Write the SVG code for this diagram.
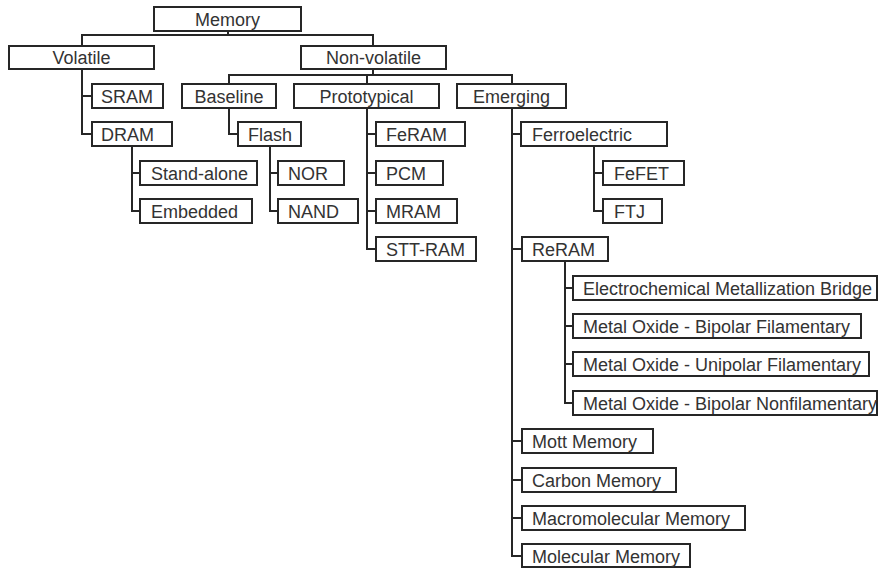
<svg xmlns="http://www.w3.org/2000/svg" width="878" height="568" viewBox="0 0 878 568">
<style>
rect{fill:#fff;stroke:#262626;stroke-width:2}
text{font-family:"Liberation Sans",Arial,sans-serif;font-size:18px;fill:#333}
.c{text-anchor:middle}
#connectors path{fill:none;stroke:#262626;stroke-width:2}
</style>
<rect x="0" y="0" width="878" height="568" style="stroke:none"/>
<g id="connectors">
<path d="M228 31V35M82 46V35H373V46"/>
<path d="M373 69V75M229 84V75H512V84M367 75V84"/>
<path d="M82 69V134H92M82 96H92"/>
<path d="M229 108V134H238"/>
<path d="M132 146V211H140M132 173H140"/>
<path d="M270 146V211H278M270 173H278"/>
<path d="M367 108V249H376M367 134H376M367 173H376M367 211H376"/>
<path d="M512 108V556H522M512 134H521M512 249H522M512 441H522M512 480H522M512 518H522"/>
<path d="M594 146V211H603M594 173H603"/>
<path d="M565 261V403H573M565 288H573M565 326H573M565 364H573"/>
</g>
<g id="memory"><rect x="154" y="7" width="147" height="24"/><text class="c" x="227.5" y="25.5">Memory</text></g>
<g id="volatile"><rect x="9" y="46" width="145" height="23"/><text class="c" x="81.5" y="64">Volatile</text></g>
<g id="nonvolatile"><rect x="301" y="46" width="145" height="23"/><text class="c" x="373.5" y="64">Non-volatile</text></g>
<g id="baseline"><rect x="182" y="84" width="94" height="24"/><text class="c" x="229" y="102.5">Baseline</text></g>
<g id="prototypical"><rect x="294" y="84" width="145" height="24"/><text class="c" x="366.5" y="102.5">Prototypical</text></g>
<g id="emerging"><rect x="457" y="84" width="109" height="24"/><text class="c" x="511.5" y="102.5">Emerging</text></g>
<g id="sram"><rect x="92" y="84" width="71" height="24"/><text x="101" y="102.5">SRAM</text></g>
<g id="dram"><rect x="92" y="122" width="80" height="24"/><text x="101" y="140.5">DRAM</text></g>
<g id="flash"><rect x="238" y="122" width="63" height="24"/><text x="248" y="140.5">Flash</text></g>
<g id="feram"><rect x="376" y="122" width="89" height="24"/><text x="386" y="140.5">FeRAM</text></g>
<g id="ferroelectric"><rect x="521" y="122" width="146" height="24"/><text x="532" y="140.5">Ferroelectric</text></g>
<g id="standalone"><rect x="140" y="161" width="117" height="24"/><text x="151" y="179.5">Stand-alone</text></g>
<g id="nor"><rect x="278" y="161" width="66" height="24"/><text x="288" y="179.5">NOR</text></g>
<g id="pcm"><rect x="376" y="161" width="67" height="24"/><text x="386" y="179.5">PCM</text></g>
<g id="fefet"><rect x="603" y="161" width="81" height="24"/><text x="614" y="179.5">FeFET</text></g>
<g id="embedded"><rect x="140" y="199" width="112" height="24"/><text x="151" y="217.5">Embedded</text></g>
<g id="nand"><rect x="278" y="199" width="80" height="24"/><text x="288" y="217.5">NAND</text></g>
<g id="mram"><rect x="376" y="199" width="81" height="24"/><text x="386" y="217.5">MRAM</text></g>
<g id="ftj"><rect x="603" y="199" width="59" height="24"/><text x="614" y="217.5">FTJ</text></g>
<g id="sttram"><rect x="376" y="237" width="100" height="24"/><text x="386" y="255.5">STT-RAM</text></g>
<g id="reram"><rect x="522" y="237" width="86" height="24"/><text x="532" y="255.5">ReRAM</text></g>
<g id="ecm"><rect x="573" y="276" width="304" height="24"/><text x="583" y="294.5">Electrochemical Metallization Bridge</text></g>
<g id="mobf"><rect x="573" y="314" width="288" height="24"/><text x="583" y="332.5">Metal Oxide - Bipolar Filamentary</text></g>
<g id="mouf"><rect x="573" y="352" width="296" height="24"/><text x="583" y="370.5">Metal Oxide - Unipolar Filamentary</text></g>
<g id="mobn"><rect x="573" y="391" width="304" height="24"/><text x="583" y="409.5">Metal Oxide - Bipolar Nonfilamentary</text></g>
<g id="mott"><rect x="522" y="429" width="131" height="24"/><text x="532" y="447.5">Mott Memory</text></g>
<g id="carbon"><rect x="522" y="468" width="154" height="24"/><text x="532" y="486.5">Carbon Memory</text></g>
<g id="macromolecular"><rect x="522" y="506" width="223" height="24"/><text x="532" y="524.5">Macromolecular Memory</text></g>
<g id="molecular"><rect x="522" y="544" width="168" height="23"/><text x="532" y="562.5">Molecular Memory</text></g>
</svg>
